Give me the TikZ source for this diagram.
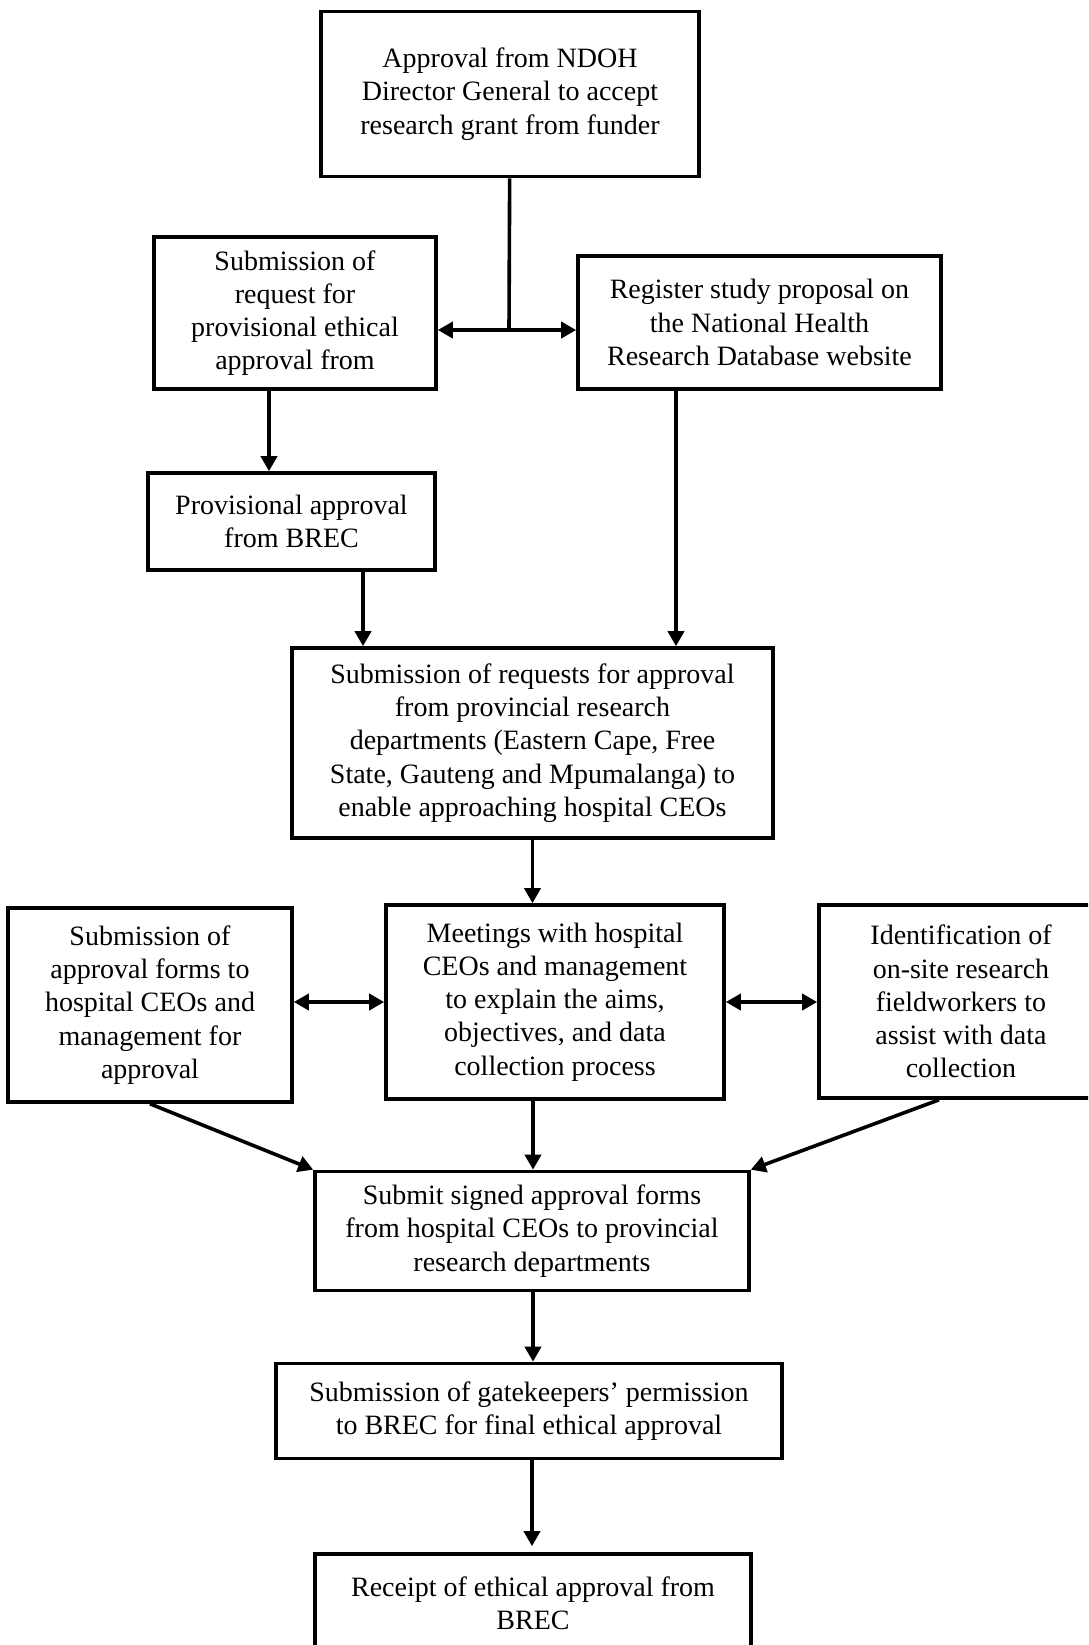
\documentclass[tikz,border=0pt]{standalone}
\usepackage{fontspec}
\setmainfont{Liberation Serif}
\usetikzlibrary{arrows.meta}
\tikzset{
  box/.style      = {rectangle, draw=black, line width=1.8pt, align=center,
                     inner sep=2pt, font=\fontsize{14pt}{16.6pt}\selectfont},
  flow/.style     = {-{Triangle[length=7.5pt, width=8pt]}, line width=1.8pt},
  flowboth/.style = {{Triangle[length=7.5pt, width=8pt]}-{Triangle[length=7.5pt, width=8pt]}, line width=1.8pt},
}

\begin{document}
\begin{tikzpicture}[x=0.5pt, y=-0.5pt]
  \path[use as bounding box, clip] (0,0) rectangle (1088,1645);

  % --- top ---
  \node[box, minimum width=189pt, minimum height=82.5pt] at (510, 94) (ndoh)
        {Approval from NDOH\\Director General to accept\\research grant from funder};
  \node[box, minimum width=141pt, minimum height=76pt] at (295, 313) (req)
        {Submission of\\request for\\provisional ethical\\approval from};
  \node[box, minimum width=181.5pt, minimum height=66.5pt] at (759.5, 322.5) (reg)
        {Register study proposal on\\the National Health\\Research Database website};
  \node[box, minimum width=143.5pt, minimum height=48.5pt] at (291.5, 521.5) (prov)
        {Provisional approval\\from BREC};

  \coordinate (split) at (509, 330);
  \draw[line width=1.8pt] (ndoh) -- (split);
  \draw[flow] (split) -- (split -| req.east);
  \draw[flow] (split) -- (split -| reg.west);
  \draw[flow] ([xshift=-13pt]req.south) -- ([xshift=-13pt]req.south |- prov.north);

  % --- provinces ---
  \node[box, minimum width=240.5pt, minimum height=95pt] at (532.5, 743) (prd)
        {Submission of requests for approval\\from provincial research\\departments (Eastern Cape, Free\\State, Gauteng and Mpumalanga) to\\enable approaching hospital CEOs};

  \draw[flow] ([xshift=35.75pt]prov.south) -- ([xshift=35.75pt]prov.south |- prd.north);
  \draw[flow] ([xshift=-41.75pt]reg.south) -- ([xshift=-41.75pt]reg.south |- prd.north);

  % --- hospitals ---
  \node[box, minimum width=142pt, minimum height=97pt] at (150, 1005) (forms)
        {Submission of\\approval forms to\\hospital CEOs and\\management for\\approval};
  \node[box, minimum width=169pt, minimum height=97pt] at (555, 1002) (meet)
        {Meetings with hospital\\CEOs and management\\to explain the aims,\\objectives, and data\\collection process};
  \node[box, minimum width=142pt, minimum height=96.5pt] at (961, 1001.5) (field)
        {Identification of\\on-site research\\fieldworkers to\\assist with data\\collection};

  \draw[flow] (prd.south) -- (prd.south |- meet.north);
  \draw[flowboth] (meet.west) -- (meet.west -| forms.east);
  \draw[flowboth] (meet.east) -- (meet.east -| field.west);

  % --- final steps ---
  \node[box, minimum width=217pt, minimum height=59.5pt] at (532, 1231) (signed)
        {Submit signed approval forms\\from hospital CEOs to provincial\\research departments};
  \node[box, minimum width=253pt, minimum height=47.5pt] at (529, 1411) (gate)
        {Submission of gatekeepers’ permission\\to BREC for final ethical approval};
  \node[box, minimum width=218pt, minimum height=49pt] at (533, 1603) (final)
        {Receipt of ethical approval from\\BREC};

  \draw[flow] (forms.south) -- (signed.north west);
  \draw[flow] ([xshift=-11pt]meet.south) -- ([xshift=-11pt]meet.south |- signed.north);
  \draw[flow] ([xshift=-11pt]field.south) -- (signed.north east);
  \draw[flow] ([xshift=0.5pt]signed.south) -- ([xshift=0.5pt]signed.south |- gate.north);
  \draw[flow, shorten >=3pt] ([xshift=1.5pt]gate.south) -- ([xshift=1.5pt]gate.south |- final.north);
\end{tikzpicture}
\end{document}
